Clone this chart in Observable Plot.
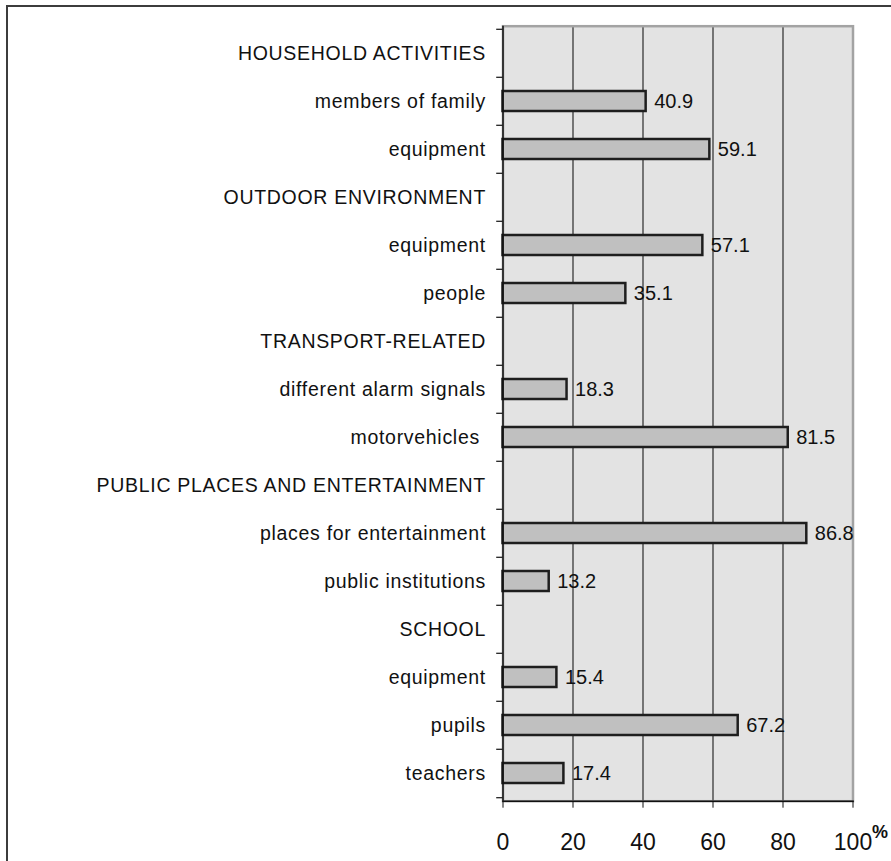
<!DOCTYPE html>
<html>
<head>
<meta charset="utf-8">
<script src="https://cdn.jsdelivr.net/npm/d3@7"></script>
<script src="https://cdn.jsdelivr.net/npm/@observablehq/plot@0.6"></script>
<style>
  html, body { margin: 0; padding: 0; background: #fff; overflow: hidden; }
  #wrap { position: relative; width: 891px; height: 861px; overflow: hidden; }
  #border { position: absolute; left: 6px; top: 5px; width: 2000px; height: 2000px;
            border-left: 2px solid #3c3c3c; border-top: 2px solid #3c3c3c; }
  #chart { position: absolute; left: 0; top: 0; }
  #chart svg g[aria-label="y-axis tick label"] text { letter-spacing: 0.7px; }
</style>
</head>
<body>
<div id="wrap"><div id="border"></div><div id="chart"></div></div>
<script>
// Sources of noise, grouped by setting (share of respondents, %)
const categories = [
  "HOUSEHOLD ACTIVITIES",
  "members of family",
  "equipment",
  "OUTDOOR ENVIRONMENT",
  "equipment",
  "people",
  "TRANSPORT-RELATED",
  "different alarm signals",
  "motorvehicles\u00a0",
  "PUBLIC PLACES AND ENTERTAINMENT",
  "places for entertainment",
  "public institutions",
  "SCHOOL",
  "equipment",
  "pupils",
  "teachers"
];
// Group headings carry no value
const shares = [null, 40.9, 59.1, null, 57.1, 35.1, null, 18.3, 81.5, null, 86.8, 13.2, null, 15.4, 67.2, 17.4];
const xTicks = [0, 20, 40, 60, 80, 100];
const gridValues = [20, 40, 60, 80];

const width = 891, height = 861;
const marginLeft = 502.5, marginRight = 38.5, marginTop = 25.7, marginBottom = 60.3;

const keys = categories.map((_, i) => i);
const rows = categories.map((label, i) => ({key: i, label, value: shares[i]}));
const bars = rows.filter(d => d.value != null);
const band = (height - marginTop - marginBottom) / categories.length;

const chart = Plot.plot({
  width, height, marginLeft, marginRight, marginTop, marginBottom,
  style: {fontFamily: "'Liberation Sans', Arial, sans-serif", background: "transparent", color: "#111"},
  x: {domain: [0, 100], label: null},
  y: {type: "band", domain: keys, padding: 0, label: null},
  marks: [
    Plot.frame({fill: "#e3e3e3"}),
    Plot.ruleX(gridValues, {stroke: "#3a3a3a", strokeWidth: 1.3}),
    Plot.frame({stroke: "#a3a3a3", strokeWidth: 2.5}),
    Plot.barX(bars, {
      x: "value", y: "key", insetTop: 14, insetBottom: 14,
      fill: "#c0c0c0", stroke: "#1e1e1e", strokeWidth: 2.5
    }),
    Plot.text(bars, {
      x: "value", y: "key", text: d => d.value.toFixed(1),
      textAnchor: "start", dx: 8, fontSize: 20, fill: "#111"
    }),
    // axis lines
    Plot.ruleX([0], {stroke: "#111", strokeWidth: 1.5}),
    Plot.frame({anchor: "bottom", stroke: "#111", strokeWidth: 1.5}),
    // category boundary ticks on the left axis
    Plot.ruleY(keys, {y: d => d, x1: -1.8, x2: 0, dy: -band / 2, stroke: "#111", strokeWidth: 1.2, clip: false}),
    Plot.ruleY([keys[keys.length - 1]], {y: d => d, x1: -1.8, x2: 0, dy: band / 2, stroke: "#111", strokeWidth: 1.2, clip: false}),
    Plot.axisY({tickSize: 0, tickPadding: 17, fontSize: 19.5, label: null, tickFormat: i => categories[i], fill: "#111"}),
    Plot.axisX(xTicks, {tickSize: 7, tickPadding: 25, fontSize: 23, label: null, tickFormat: d => String(d), fill: "#111"}),
    Plot.text([100], {
      x: d => d, text: () => "%", frameAnchor: "bottom",
      textAnchor: "start", dx: 19, dy: 37, fontSize: 18, fontWeight: "bold", fill: "#111"
    })
  ]
});
document.getElementById("chart").appendChild(chart);
</script>
</body>
</html>
